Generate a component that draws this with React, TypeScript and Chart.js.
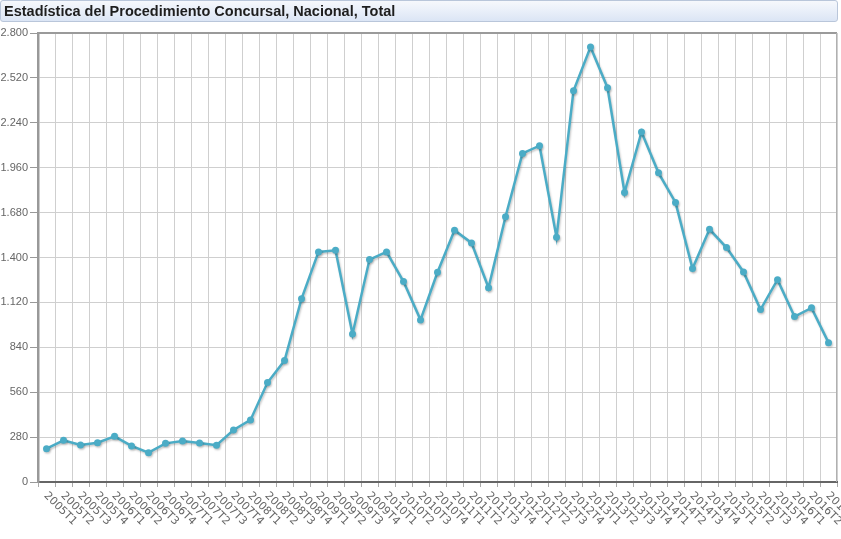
import React, { useEffect, useRef } from "react";
import { Chart, registerables } from "chart.js";

Chart.register(...registerables);

const TITLE = "Estadística del Procedimiento Concursal, Nacional, Total";

const YEARS = ["2005", "2006", "2007", "2008", "2009", "2010", "2011", "2012", "2013", "2014", "2015", "2016"];
const QUARTERS = ["T1", "T2", "T3", "T4"];
const CATEGORIES: string[] = [];
YEARS.forEach((y) => QUARTERS.forEach((q) => CATEGORIES.push(y + q)));
CATEGORIES.splice(47);

const VALUES = [
  208, 260, 231, 245, 285, 225, 183, 241, 256, 243, 229, 324,
  387, 620, 757, 1142, 1435, 1445, 923, 1387, 1435, 1250, 1011, 1308,
  1570, 1491, 1211, 1654, 2049, 2097, 1527, 2440, 2712, 2459, 1805, 2182,
  1928, 1743, 1331, 1576, 1462, 1310, 1075, 1262, 1032, 1086, 869,
];

const Y_MIN = 0;
const Y_MAX = 2800;
const Y_STEP = 280;

const fmt = (v: number) => String(v).replace(/\B(?=(\d{3})+(?!\d))/g, ".");

export default function App() {
  const ref = useRef<HTMLCanvasElement | null>(null);

  useEffect(() => {
    document.body.style.margin = "0";
    document.body.style.overflow = "hidden";
    const canvas = ref.current;
    if (!canvas) return;

    const framePlugin = {
      id: "frame",
      beforeDatasetsDraw(chart: any) {
        const { ctx, chartArea } = chart;
        ctx.save();
        ctx.strokeStyle = "#9a9a9a";
        ctx.lineWidth = 2;
        ctx.beginPath();
        ctx.moveTo(chartArea.left, chartArea.top);
        ctx.lineTo(chartArea.right, chartArea.top);
        ctx.stroke();
        ctx.lineWidth = 1;
        ctx.strokeStyle = "#b0b0b0";
        ctx.beginPath();
        ctx.moveTo(chartArea.right - 0.5, chartArea.top);
        ctx.lineTo(chartArea.right - 0.5, chartArea.bottom);
        ctx.stroke();
        ctx.restore();
      },
    };

    const shadowPlugin = {
      id: "shadow",
      beforeDatasetDraw(chart: any) {
        const ctx = chart.ctx;
        ctx.save();
        ctx.shadowColor = "rgba(0,0,0,0.22)";
        ctx.shadowBlur = 2;
        ctx.shadowOffsetX = 1;
        ctx.shadowOffsetY = 1.5;
      },
      afterDatasetDraw(chart: any) {
        chart.ctx.restore();
      },
    };

    const xLabelPlugin = {
      id: "xlabels",
      afterDraw(chart: any) {
        const { ctx } = chart;
        const xs = chart.scales.x;
        const bottom = chart.chartArea.bottom;
        ctx.save();
        ctx.fillStyle = "#666";
        ctx.font = "11px 'DejaVu Sans', sans-serif";
        ctx.textAlign = "left";
        ctx.textBaseline = "middle";
        CATEGORIES.forEach((lab, i) => {
          const x = xs.getPixelForValue(i);
          ctx.save();
          ctx.translate(x - 1, bottom + 12);
          ctx.rotate(Math.PI / 4);
          ctx.fillText(lab, 0, 0);
          ctx.restore();
        });
        ctx.restore();
      },
    };

    const chart = new Chart(canvas, {
      type: "line",
      data: {
        labels: CATEGORIES,
        datasets: [
          {
            data: VALUES,
            borderColor: "#4BACC6",
            backgroundColor: "#4BACC6",
            borderWidth: 2.5,
            pointRadius: 3.5,
            pointBorderWidth: 0,
            pointBackgroundColor: "#4BACC6",
            tension: 0,
            fill: false,
          },
        ],
      },
      options: {
        responsive: false,
        animation: false,
        layout: { padding: { top: 33, right: 2, left: 0, bottom: 0 } },
        plugins: {
          legend: { display: false },
          tooltip: { enabled: false },
          title: { display: false },
        },
        scales: {
          x: {
            type: "category",
            offset: true,
            grid: {
              offset: true,
              color: "#cfcfcf",
              lineWidth: 1,
              tickLength: 5,
              tickColor: "#aaa",
              drawTicks: true,
            },
            border: { display: true, color: "#666", width: 2 },
            ticks: { display: false },
            afterFit(scale: any) {
              scale.height = 57;
            },
          },
          y: {
            min: Y_MIN,
            max: Y_MAX,
            grid: {
              color: "#cfcfcf",
              lineWidth: 1,
              tickLength: 8,
              tickColor: "#999",
            },
            border: { display: true, color: "#999", width: 2.5 },
            ticks: {
              stepSize: Y_STEP,
              color: "#666",
              padding: 2,
              font: { family: "'Liberation Sans', Arial, sans-serif", size: 11 },
              callback: (v: any) => fmt(Number(v)),
            },
            afterFit(scale: any) {
              scale.width = 38;
            },
          },
        },
      } as any,
      plugins: [framePlugin, shadowPlugin, xLabelPlugin],
    });

    return () => chart.destroy();
  }, []);

  return (
    <div style={{ position: "relative", width: 841, height: 539, background: "#fff" }}>
      <canvas ref={ref} width={841} height={539} style={{ position: "absolute", left: 0, top: 0, width: 841, height: 539 }} />
      <div
        style={{
          position: "absolute",
          left: 0,
          top: 0,
          width: 838,
          height: 22,
          boxSizing: "border-box",
          border: "1px solid #b9c6da",
          borderRadius: 3,
          background: "linear-gradient(to bottom, #f6f8fc 0%, #e9eff9 50%, #dbe5f5 100%)",
          fontFamily: "'Liberation Sans', Arial, sans-serif",
          fontWeight: "bold",
          fontSize: 14.5,
          lineHeight: "20px",
          color: "#1e1e1e",
          paddingLeft: 3,
          whiteSpace: "nowrap",
        }}
      >
        {TITLE}
      </div>
    </div>
  );
}
